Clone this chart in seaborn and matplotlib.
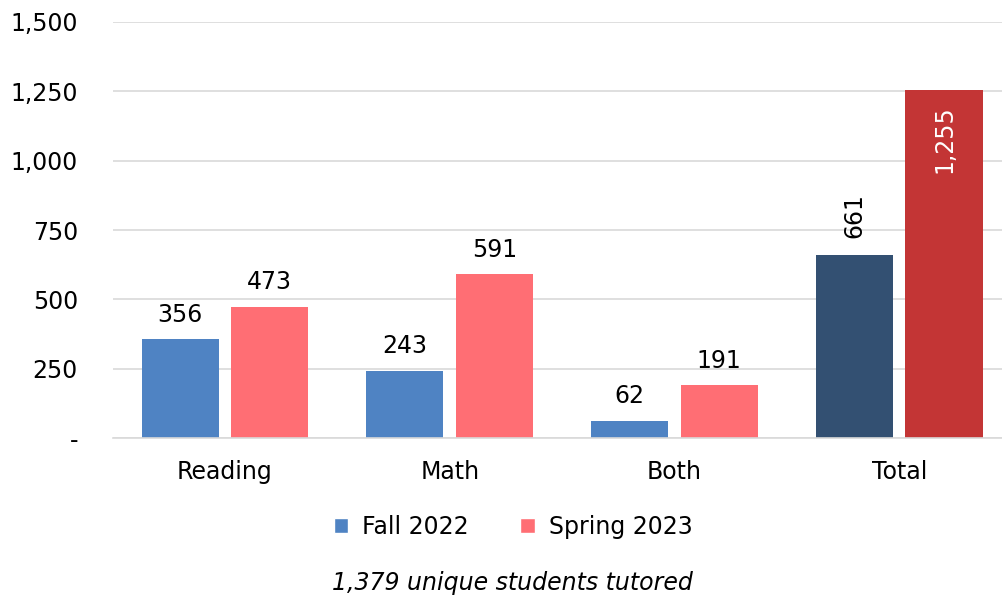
import matplotlib
matplotlib.use("Agg")
import matplotlib.pyplot as plt
import seaborn as sns
import pandas as pd
from matplotlib.ticker import FuncFormatter, MultipleLocator
from matplotlib.patches import Patch

categories = ["Reading", "Math", "Both", "Total"]
fall_2022 = [356, 243, 62, 661]
spring_2023 = [473, 591, 191, 1255]
series_names = ["Fall 2022", "Spring 2023"]
caption = "1,379 unique students tutored"

c_fall = "#4F83C3"
c_spring = "#FF6E74"
c_fall_total = "#335072"
c_spring_total = "#C33535"

df = pd.DataFrame({
    "category": categories * 2,
    "value": fall_2022 + spring_2023,
    "series": [series_names[0]] * 4 + [series_names[1]] * 4,
})

sns.set_theme(style="white")
plt.rcParams["font.family"] = ["DejaVu Sans"]

FS = 17

fig = plt.figure(figsize=(10.02, 6.04), dpi=100)
ax = fig.add_axes([112.6 / 1002, 1 - 438 / 604, (1011.6 - 112.6) / 1002, (438 - 22) / 604])

sns.barplot(data=df, x="category", y="value", hue="series",
            palette=[c_fall, c_spring], width=0.797, gap=0.14,
            ax=ax, legend=False, saturation=1)

fall_bars = ax.containers[0]
spring_bars = ax.containers[1]
fall_bars[3].set_facecolor(c_fall_total)
spring_bars[3].set_facecolor(c_spring_total)
for b in list(fall_bars) + list(spring_bars):
    b.set_edgecolor("none")

ax.set_ylim(0, 1500)
ax.set_xlim(-0.5, 3.5)
ax.yaxis.set_major_locator(MultipleLocator(250))
ax.yaxis.set_major_formatter(FuncFormatter(lambda v, p: "-" if v == 0 else f"{int(v):,}"))
ax.grid(axis="y", color="#D9D9D9", linewidth=1.2)
ax.set_axisbelow(True)
for s in ["top", "right", "left"]:
    ax.spines[s].set_visible(False)
ax.spines["bottom"].set_color("#D9D9D9")
ax.spines["bottom"].set_linewidth(1.2)
ax.tick_params(axis="both", length=0, labelsize=FS, colors="black")
ax.tick_params(axis="y", pad=25)
ax.tick_params(axis="x", pad=16)
ax.set_xlabel("")
ax.set_ylabel("")

for i, (bf, bs) in enumerate(zip(fall_bars, spring_bars)):
    for bar, val in ((bf, fall_2022[i]), (bs, spring_2023[i])):
        xc = bar.get_x() + bar.get_width() / 2
        h = bar.get_height()
        if i < 3:
            ax.annotate(f"{val:,}", (xc, h), xytext=(0, 9), textcoords="offset points",
                        ha="center", va="bottom", fontsize=FS, color="black")
        elif val < 1000:
            ax.annotate(f"{val:,}", (xc, h), xytext=(0, 12), textcoords="offset points",
                        ha="center", va="bottom", fontsize=FS, color="black", rotation=90)
        else:
            ax.annotate(f"{val:,}", (xc, h), xytext=(0, -11), textcoords="offset points",
                        ha="center", va="top", fontsize=FS, color="white", rotation=90)

handles = [Patch(facecolor=c_fall), Patch(facecolor=c_spring)]
leg = fig.legend(handles, series_names, loc="center", bbox_to_anchor=(513 / 1002, 1 - 527 / 604),
                 ncol=2, frameon=False, fontsize=FS, handlelength=0.6, handleheight=0.6,
                 handletextpad=0.6, columnspacing=2.2)
for t in leg.get_texts():
    t.set_color("black")

fig.text(512 / 1002, 1 - 583 / 604, caption, ha="center", va="center",
         fontsize=FS, style="italic", color="black")

fig.savefig("out.png", dpi=100)
